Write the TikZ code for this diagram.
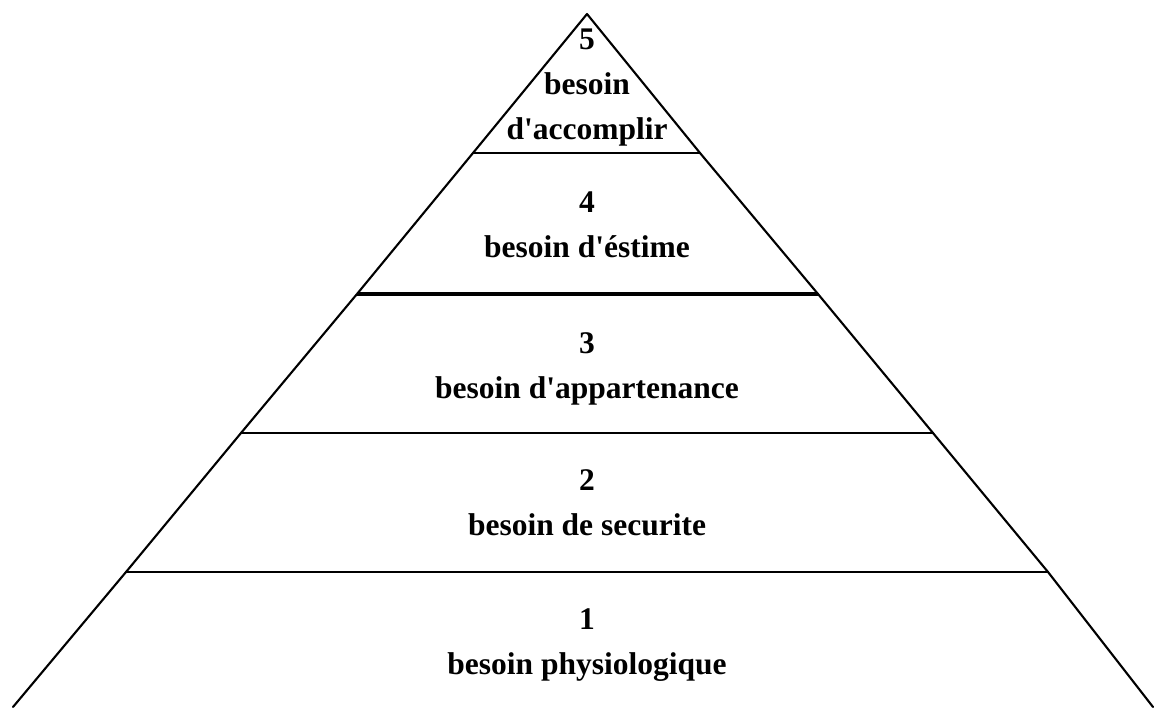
\documentclass[tikz,border=0pt]{standalone}
\usepackage{fontspec}
\setmainfont{Liberation Serif}
\begin{document}
\begin{tikzpicture}[x=1pt,y=-1pt,
  edge/.style={line width=2.1pt,line cap=round,line join=round},
  thickedge/.style={line width=3.4pt},
  lbl/.style={anchor=base,inner sep=0pt,font=\fontsize{31.5}{36}\selectfont\bfseries}]
\useasboundingbox (0,0) rectangle (1155,707);
% corners
\coordinate (apex) at (587,14);
\coordinate (L5) at (473,153); \coordinate (R5) at (700,153);
\coordinate (L4) at (357,294); \coordinate (R4) at (818,294);
\coordinate (L3) at (241,433); \coordinate (R3) at (933,433);
\coordinate (L2) at (126,572); \coordinate (R2) at (1048,572);
\coordinate (L1) at (13,707);  \coordinate (R1) at (1153,707);
% sides
\draw[edge] (L1) -- (L2) -- (L3) -- (L4) -- (L5) -- (apex) -- (R5) -- (R4) -- (R3) -- (R2) -- (R1);
% separators
\draw[edge] (L5) -- (R5);
\draw[thickedge] (L4) -- (R4);
\draw[edge] (L3) -- (R3);
\draw[edge] (L2) -- (R2);
% labels
\node[lbl] (n5) at (587,49) {5};
\node[lbl] (t5a) at (587,94) {besoin};
\node[lbl] (t5b) at (587,139) {d\textquotesingle accomplir};
\node[lbl] (n4) at (587,212) {4};
\node[lbl] (t4) at (587,257) {besoin d\textquotesingle éstime};
\node[lbl] (n3) at (587,353) {3};
\node[lbl] (t3) at (587,398) {besoin d\textquotesingle appartenance};
\node[lbl] (n2) at (587,490) {2};
\node[lbl] (t2) at (587,535) {besoin de securite};
\node[lbl] (n1) at (587,629) {1};
\node[lbl] (t1) at (587,674) {besoin physiologique};
\end{tikzpicture}
\end{document}
